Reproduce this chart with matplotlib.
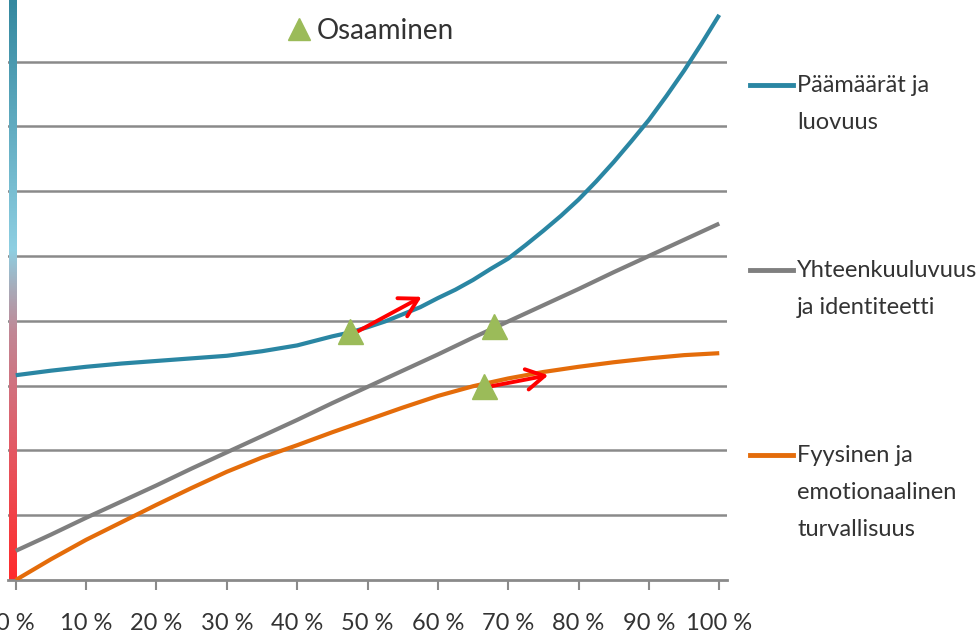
import numpy as np
import matplotlib
matplotlib.use('Agg')
import matplotlib.pyplot as plt
from matplotlib.colors import LinearSegmentedColormap
from matplotlib.lines import Line2D

plt.rcParams['font.family'] = ['Lato', 'DejaVu Sans']

# x axis in percent
pct = [0, 5, 10, 15, 20, 25, 30, 35, 40, 45, 50,
       55, 60, 65, 70, 75, 80, 85, 90, 95, 100]
# the steep curve is read at 2.5 % steps from 45 % onwards
paamaarat_x = [0, 5, 10, 15, 20, 25, 30, 35, 40, 45, 47.5, 50, 52.5, 55, 57.5,
               60, 62.5, 65, 67.5, 70, 72.5, 75, 77.5, 80, 82.5, 85, 87.5,
               90, 92.5, 95, 97.5, 100]
paamaarat = [3.16, 3.23, 3.29, 3.34, 3.38, 3.42, 3.46, 3.53, 3.62, 3.76, 3.82,
             3.90, 3.99, 4.10, 4.21, 4.35, 4.48, 4.63, 4.80, 4.96, 5.17, 5.39,
             5.62, 5.87, 6.15, 6.45, 6.77, 7.10, 7.47, 7.86, 8.28, 8.72]
yhteenkuuluvuus = [0.45, 0.70, 0.96, 1.21, 1.46, 1.72, 1.97, 2.22, 2.47, 2.73, 2.98,
                   3.23, 3.48, 3.74, 3.99, 4.24, 4.49, 4.75, 5.00, 5.25, 5.50]
fyysinen = [0.00, 0.32, 0.62, 0.89, 1.16, 1.42, 1.67, 1.89, 2.08, 2.28, 2.47,
            2.66, 2.84, 2.99, 3.11, 3.21, 3.29, 3.36, 3.42, 3.47, 3.50]

series_x = [paamaarat_x, pct, pct]
series = [paamaarat, yhteenkuuluvuus, fyysinen]
series_labels = ['Päämäärät ja\nluovuus',
                 'Yhteenkuuluvuus\nja identiteetti',
                 'Fyysinen ja\nemotionaalinen\nturvallisuus']
series_colors = ['#2a86a3', '#7f7f7f', '#e46c0a']

# osaaminen markers (triangles) on the curves
osaaminen_x = [47.5, 68.0, 66.6]
osaaminen_y = [3.85, 3.92, 2.99]

# red arrows: start -> end
arrow_x0 = [48.5, 67.1]
arrow_y0 = [3.83, 2.98]
arrow_x1 = [57.7, 75.7]
arrow_y1 = [4.37, 3.16]

xticks = [0, 10, 20, 30, 40, 50, 60, 70, 80, 90, 100]
xtick_labels = ['%d %%' % v for v in xticks]

W, H = 976, 637
fig = plt.figure(figsize=(W / 100, H / 100), dpi=100)
ax = fig.add_axes([8 / W, 57 / H, 719 / W, 580 / H])

# colour bar along the left edge (red at bottom -> teal at top)
bar_cmap = LinearSegmentedColormap.from_list('bar', [
    (0.00, '#ff2b2b'), (0.25, '#e05e6a'), (0.43, '#c08896'),
    (0.50, '#a9aab8'), (0.57, '#8ecfe2'), (1.00, '#34889f')])
ax.imshow(np.linspace(0, 1, 256)[:, None], cmap=bar_cmap, origin='lower',
          extent=(-1.0, 0, 0, 8.95), aspect='auto', zorder=1.5)

for xs, vals, col in zip(series_x, series, series_colors):
    ax.plot(xs, vals, color=col, lw=3, solid_capstyle='butt',
            solid_joinstyle='round', zorder=3)

tri = ax.plot(osaaminen_x, osaaminen_y, '^', color='#9bbb59', ms=18,
              ls='none', label='Osaaminen', zorder=5)

for x0, y0, x1, y1 in zip(arrow_x0, arrow_y0, arrow_x1, arrow_y1):
    ax.annotate('', xy=(x1, y1), xytext=(x0, y0),
                arrowprops=dict(arrowstyle='->,head_length=0.65,head_width=0.37',
                                color='#ff0000', lw=2.8, mutation_scale=20,
                                shrinkA=0, shrinkB=0), zorder=4)

ax.set_xlim(-1.1, 101.1)
ax.set_ylim(0, 8.95)

# horizontal grid
ax.set_yticks(range(1, 9))
ax.yaxis.grid(True, color='#8a8a8a', lw=1.8)
ax.set_axisbelow(True)
ax.tick_params(axis='y', length=0, labelleft=False)

ax.set_xticks(xticks)
ax.set_xticklabels(xtick_labels)
ax.tick_params(axis='x', length=7, width=1.5, color='#8a8a8a', pad=17,
               labelsize=17, labelcolor='#333333')

for s in ['top', 'right', 'left']:
    ax.spines[s].set_visible(False)
ax.spines['bottom'].set_color('#8a8a8a')
ax.spines['bottom'].set_linewidth(2)

# legend for the triangles at the top
ax.legend(handles=tri, loc='center left', bbox_to_anchor=(285 / W, 1 - 31 / H),
          bbox_transform=fig.transFigure, frameon=False, fontsize=20,
          handlelength=1, handletextpad=0.15, borderpad=0, borderaxespad=0,
          markerscale=0.88, labelcolor='#333333')

# series labels on the right
for i, (lab, col) in enumerate(zip(series_labels, series_colors)):
    y_line = 85 + 185 * i
    fig.add_artist(Line2D([750 / W, 793 / W], [1 - y_line / H] * 2,
                          color=col, lw=3.5))
    fig.text(797 / W, 1 - (y_line - 10) / H, lab, va='top', ha='left',
             fontsize=17, linespacing=1.95, color='#333333')

fig.savefig('out.png', dpi=100)
